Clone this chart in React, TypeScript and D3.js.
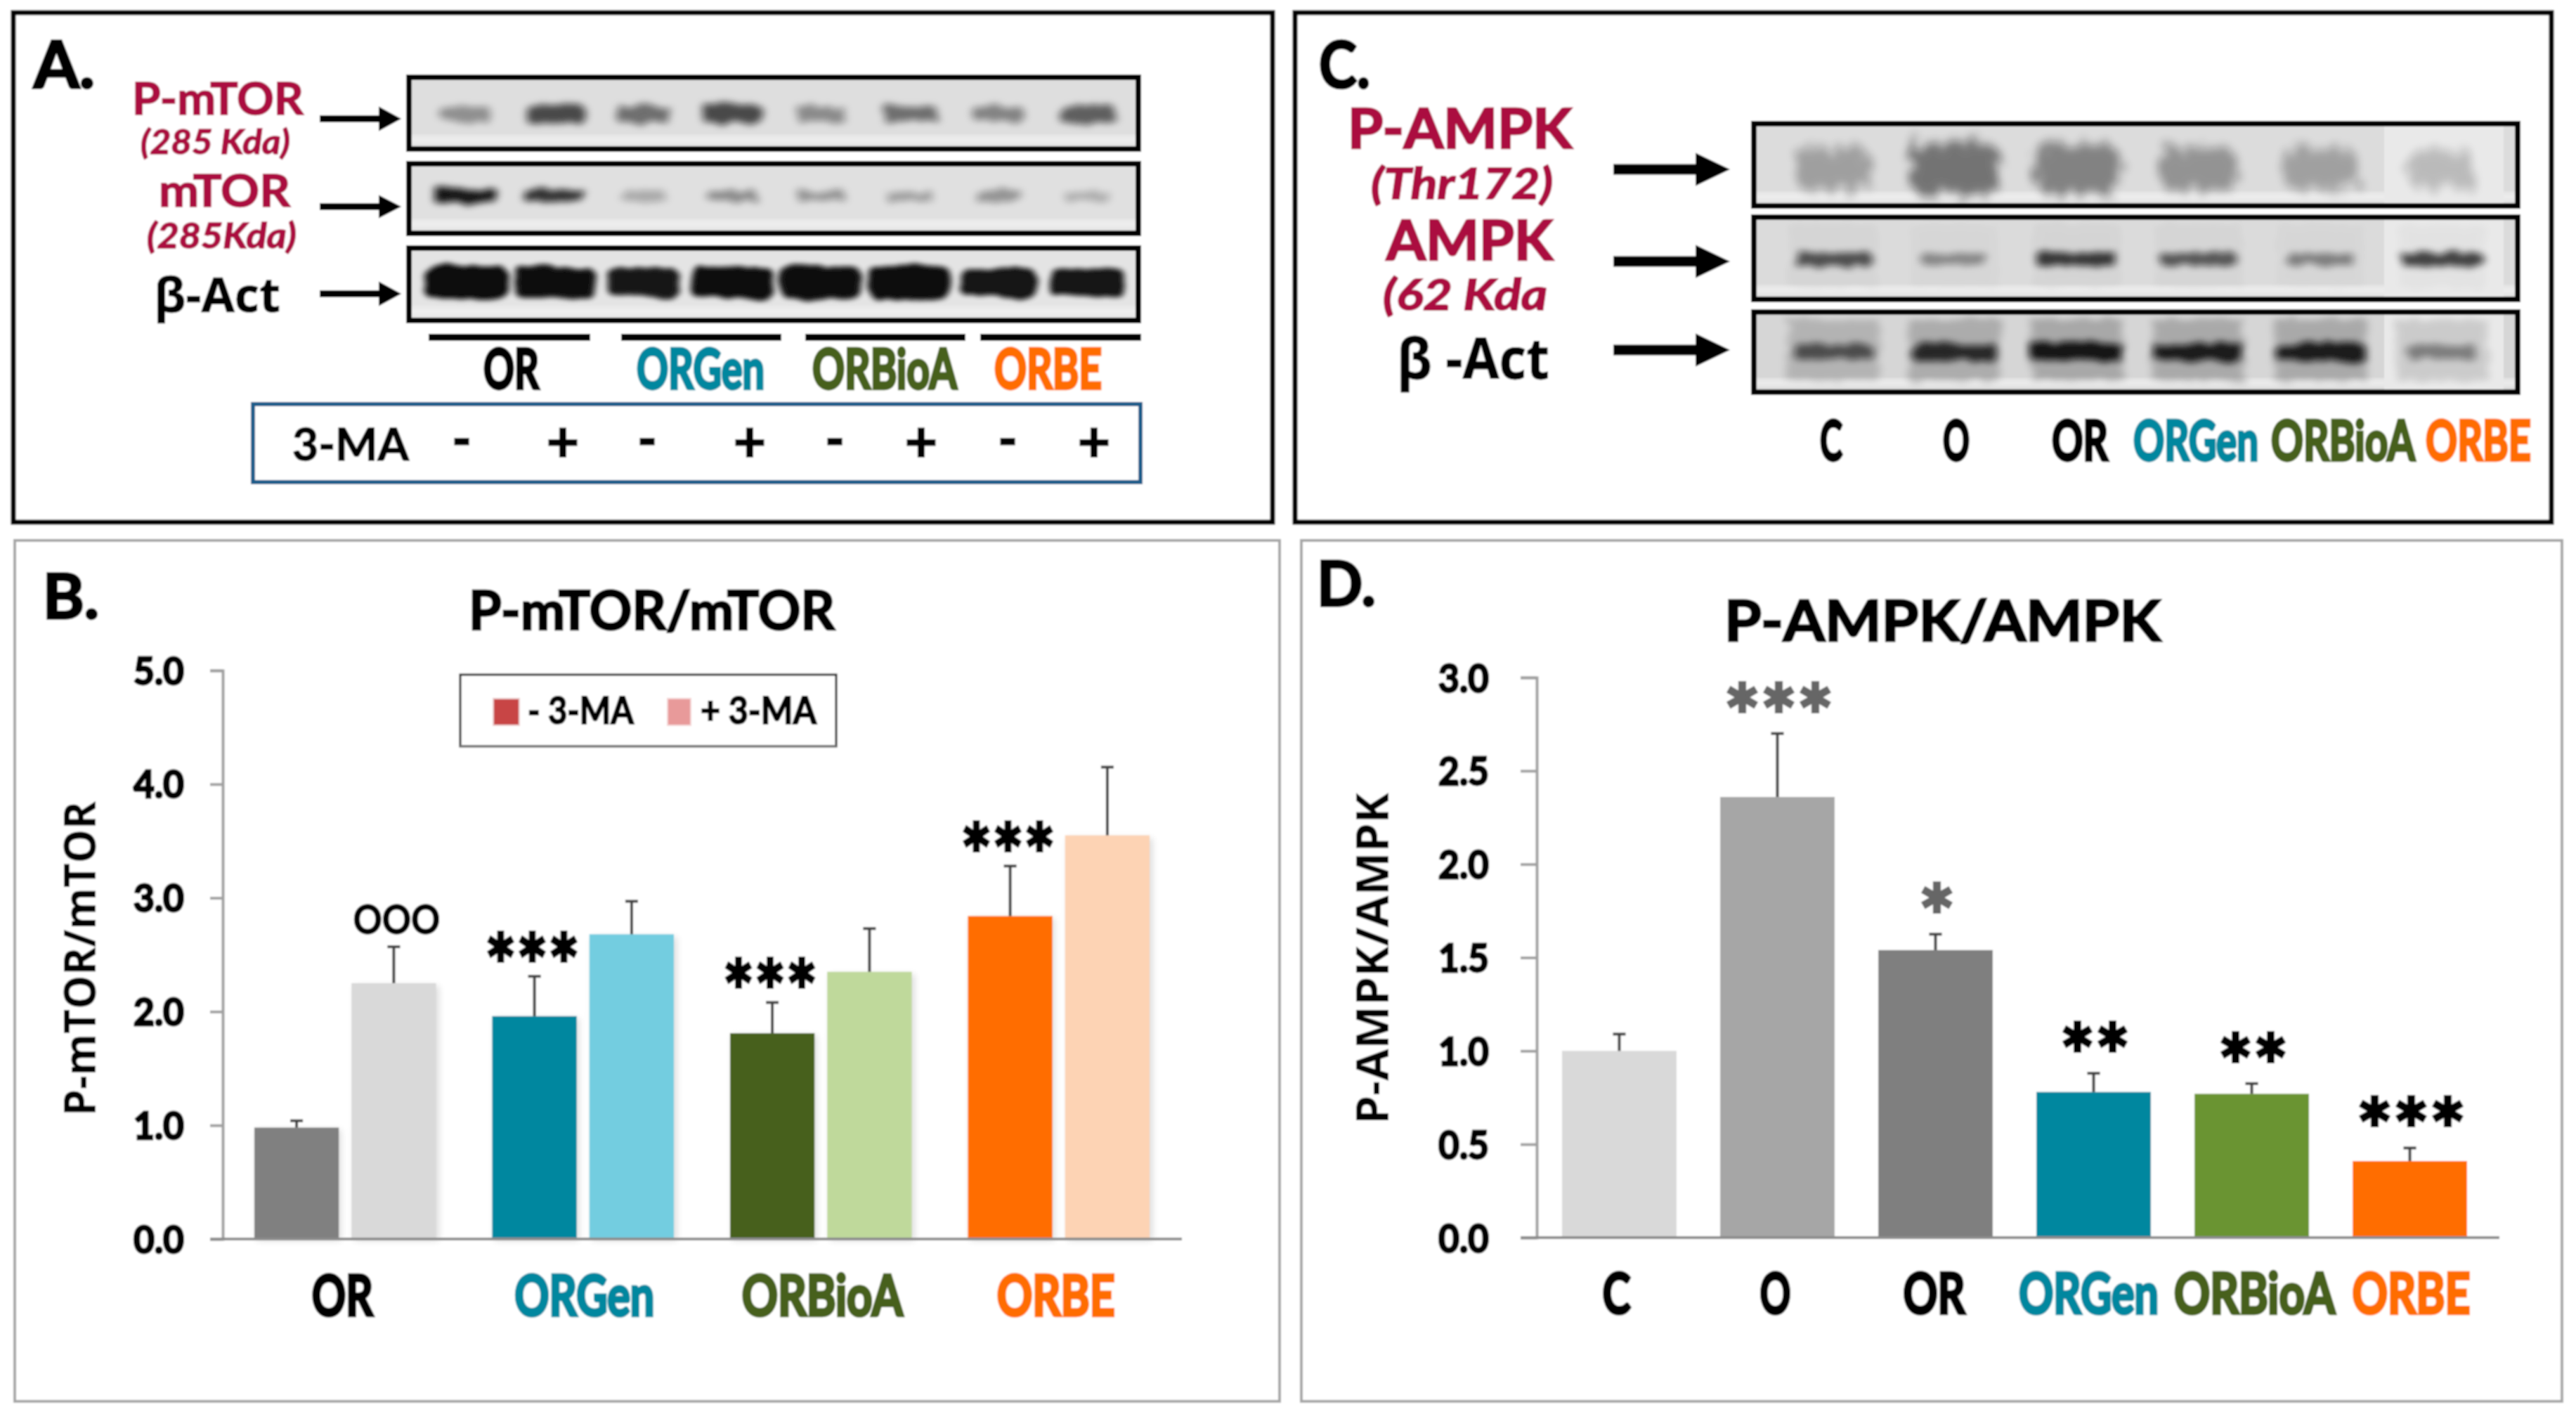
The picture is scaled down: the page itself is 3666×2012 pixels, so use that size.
import React, { useEffect, useLayoutEffect, useRef } from "react";
import * as d3 from "d3";

// ---------- data ----------
const groupsB = ["OR", "ORGen", "ORBioA", "ORBE"];
const minusMA = [0.98, 1.96, 1.81, 2.84];
const plusMA = [2.25, 2.68, 2.35, 3.55];
const minusMATop = [1.04, 2.31, 2.08, 3.28];
const plusMATop = [2.57, 2.97, 2.73, 4.15];
const minusColors = ["#808080", "#00879f", "#47611f", "#ff6d00"];
const plusColors = ["#d9d9d9", "#73cde0", "#bfd99b", "#fdd3b4"];
const starsMinus = ["", "***", "***", "***"];
const starsPlus = ["OOO", "", "", ""];

const groupsD = ["C", "O", "OR", "ORGen", "ORBioA", "ORBE"];
const ampk = [1.0, 2.36, 1.54, 0.78, 0.77, 0.41];
const ampkTop = [1.09, 2.7, 1.625, 0.88, 0.825, 0.48];
const ampkColors = ["#d9d9d9", "#a6a6a6", "#7f7f7f", "#00879f", "#6b9431", "#ff6d00"];
const ampkStars = ["", "***", "*", "**", "**", "***"];
const ampkStarColors = ["#000", "#666", "#666", "#000", "#000", "#000"];

const pmtorBlot = [0.32, 0.8, 0.55, 0.8, 0.35, 0.55, 0.4, 0.65];
const mtorBlot = [0.95, 0.8, 0.12, 0.3, 0.25, 0.2, 0.25, 0.1];
const actABlot = [1, 0.9, 0.6, 0.95, 0.9, 0.95, 0.7, 0.7];
const pampkBlot = [0.3, 0.75, 0.6, 0.42, 0.28, 0.12];
const ampkBlot = [0.65, 0.3, 0.8, 0.6, 0.35, 0.75];
const actCBlot = [0.55, 0.8, 0.95, 0.9, 0.9, 0.3];

const labelColor: Record<string, string> = {
  C: "#000", O: "#000", OR: "#000", ORGen: "#00879f", ORBioA: "#47611f", ORBE: "#ff6d00",
};
const LATO = "Lato, sans-serif";
const OPEN = "'Open Sans', sans-serif";
const CRIMSON = "#ab0d41";

// ---------- helpers ----------
// Squeezes a text to its measured width, so that its box is the box that is drawn.
function Fit({ x0, x1, y, size, fill = "#000", italic = false, weight = 700, family = LATO, bold = 0.03, children }: any) {
  const ref = useRef<SVGTextElement>(null);
  useLayoutEffect(() => {
    const el = ref.current!;
    const natural = el.getComputedTextLength();
    el.setAttribute("transform", `translate(${x0},${y}) scale(${(x1 - x0) / natural},1)`);
  }, []);
  return (
    <text ref={ref} transform={`translate(${x0},${y})`} fontSize={size} fontFamily={family} fontWeight={weight}
      fontStyle={italic ? "italic" : "normal"} fill={fill} stroke={fill} strokeWidth={size * bold}>{children}</text>
  );
}

function Arrow({ x0, x1, y, shaft, headW, headH }: any) {
  const path = d3.path();
  path.moveTo(x0, y - shaft / 2);
  path.lineTo(x1 - headW, y - shaft / 2);
  path.lineTo(x1 - headW, y - headH / 2);
  path.lineTo(x1, y);
  path.lineTo(x1 - headW, y + headH / 2);
  path.lineTo(x1 - headW, y + shaft / 2);
  path.lineTo(x0, y + shaft / 2);
  path.closePath();
  return <path d={path.toString()} fill="#000" />;
}

function Blot({ id, x0, x1, y0, y1, laneX0, laneX1, values, cy, bandW, bandH, bg, blur, base = 0.9, floor = 0.15, smear = 0, border = 8, patch }: any) {
  const lanes = d3.scaleBand<number>().domain(values.map((_: number, i: number) => i)).range([laneX0, laneX1]);
  const shade = d3.scaleLinear().domain([0, 1]).range([floor, base]);
  return (
    <g>
      <clipPath id={id}><rect x={x0} y={y0} width={x1 - x0} height={y1 - y0} /></clipPath>
      <rect x={x0} y={y0} width={x1 - x0} height={y1 - y0} fill={bg} />
      <g clipPath={`url(#${id})`}>
        <rect x={x0} y={y1 - border - 14} width={x1 - x0} height={10} fill="#f2f2f2" filter="url(#soft)" />
        {patch && <rect x={patch[0]} y={y0} width={patch[1] - patch[0]} height={y1 - y0} fill="#e9e9e9" />}
        {values.map((v: number, i: number) => {
          const cx = lanes(i)! + lanes.bandwidth() / 2;
          const w = bandW * (0.65 + 0.35 * v);
          const h = bandH * (0.6 + 0.4 * v);
          return (
            <g key={i}>
              {smear > 0 && (
                <rect x={cx - bandW * 0.5} y={y0 + 14} width={bandW} height={y1 - y0 - 34}
                  fill="#000" opacity={smear * (0.35 + v * 0.65)} filter={`url(#${blur})`} />
              )}
              <rect x={cx - w / 2} y={cy - h / 2} width={w} height={h} rx={h * 0.3}
                fill="#111" opacity={shade(v)} filter={`url(#${blur})`} />
            </g>
          );
        })}
      </g>
      <rect x={x0 + border / 2} y={y0 + border / 2} width={x1 - x0 - border} height={y1 - y0 - border}
        fill="none" stroke="#000" strokeWidth={border} />
    </g>
  );
}

function YAxis({ scale, x, tickVals, tickX0, tickX1, fontSize }: any) {
  const ref = useRef<SVGGElement>(null);
  useEffect(() => {
    const axis = d3.axisLeft(scale).tickValues(tickVals).tickSize(x - tickX1).tickFormat(d3.format(".1f") as any);
    const g = d3.select(ref.current!);
    g.call(axis as any);
    g.selectAll(".domain").attr("stroke", "#a0a0a0").attr("stroke-width", 4);
    g.selectAll(".tick line").attr("stroke", "#a0a0a0").attr("stroke-width", 4);
    g.selectAll(".tick text")
      .attr("x", 0)
      .attr("dy", 0)
      .attr("text-anchor", "end")
      .attr("font-size", fontSize)
      .attr("font-family", LATO)
      .attr("font-weight", 700)
      .attr("fill", "#000")
      .attr("stroke", "#000")
      .attr("stroke-width", 3)
      .each(function (this: any) {
        const natural = this.getComputedTextLength();
        d3.select(this).attr("transform", `translate(${tickX0 - x},${fontSize * 0.36}) scale(${72 / natural},1)`);
      });
  }, []);
  return <g ref={ref} transform={`translate(${x},0)`} />;
}

function XAxis({ scale, y, x0, x1, labelWidth, labelDx, labelBase, fontSize }: any) {
  const ref = useRef<SVGGElement>(null);
  useEffect(() => {
    const axis = d3.axisBottom(scale).tickSize(0);
    const g = d3.select(ref.current!);
    g.call(axis as any);
    g.select(".domain").attr("stroke", "#8c8c8c").attr("stroke-width", 4).attr("d", `M${x0},0H${x1}`);
    g.selectAll(".tick text")
      .attr("y", 0)
      .attr("dy", 0)
      .attr("text-anchor", "middle")
      .attr("font-size", fontSize)
      .attr("font-family", LATO)
      .attr("font-weight", 700)
      .attr("fill", (d: any) => labelColor[d])
      .attr("stroke", (d: any) => labelColor[d])
      .attr("stroke-width", 4.5)
      .each(function (this: any, d: any) {
        const natural = this.getComputedTextLength();
        d3.select(this).attr("transform", `translate(${labelDx[d] ?? 0},${labelBase - y}) scale(${labelWidth[d] / natural},1)`);
      });
  }, []);
  return <g ref={ref} transform={`translate(0,${y})`} />;
}

function Whisker({ x, y0, y1 }: any) {
  return (
    <g stroke="#404040" strokeWidth={4} fill="none">
      <line x1={x} x2={x} y1={y0} y2={y1} />
      <line x1={x - 9} x2={x + 9} y1={y1} y2={y1} />
    </g>
  );
}

function Stars({ cx, y, text, fill = "#000", starW = 45 }: any) {
  const w = text.length * starW;
  return <Fit x0={cx - w / 2} x1={cx + w / 2} y={y} size={122} fill={fill} bold={0.033}>{text}</Fit>;
}

// ---------- panels ----------
function PanelA() {
  const under = [[610, 840], [884, 1112], [1146, 1374], [1395, 1624]];
  const labs: [string, number, number][] = [["OR", 688, 767], ["ORGen", 906, 1088], ["ORBioA", 1156, 1362], ["ORBE", 1415, 1568]];
  const minus = [657, 921, 1188, 1434];
  const plus = [801, 1067, 1311, 1557];
  return (
    <g>
      <rect x={19} y={18} width={1792} height={725} fill="#fff" stroke="#000" strokeWidth={7} />
      <Fit x0={48} x1={135} y={125} size={92} bold={0.04}>A.</Fit>
      <Fit x0={188} x1={432} y={163} size={64} fill={CRIMSON} bold={0.025}>P-mTOR</Fit>
      <Fit x0={200} x1={413} y={219} size={48} fill={CRIMSON} italic>(285 Kda)</Fit>
      <Fit x0={226} x1={413} y={294} size={64} fill={CRIMSON} bold={0.025}>mTOR</Fit>
      <Fit x0={209} x1={422} y={353} size={50} fill={CRIMSON} italic>(285Kda)</Fit>
      <Fit x0={219} x1={399} y={444} size={68} family={OPEN} weight={700} bold={0.01}>β-Act</Fit>
      <Arrow x0={455} x1={571} y={169} shaft={10} headW={32} headH={35} />
      <Arrow x0={455} x1={571} y={294} shaft={10} headW={32} headH={33} />
      <Arrow x0={455} x1={571} y={418} shaft={10} headW={32} headH={35} />
      <Blot id="a1" x0={578} x1={1624} y0={106} y1={216} laneX0={600} laneX1={1610} values={pmtorBlot} cy={162}
        bandW={90} bandH={30} bg="#dedede" blur="bandA" base={0.85} />
      <Blot id="a2" x0={578} x1={1624} y0={229} y1={336} laneX0={600} laneX1={1610} values={mtorBlot} cy={279}
        bandW={92} bandH={22} bg="#e0e0e0" blur="bandA" base={1} />
      <Blot id="a3" x0={578} x1={1624} y0={349} y1={460} laneX0={600} laneX1={1610} values={actABlot} cy={402}
        bandW={118} bandH={48} bg="#e4e4e4" blur="bandB" base={1} floor={0.85} />
      {under.map(([a, b], i) => <rect key={i} x={a} y={475} width={b - a} height={10} fill="#000" />)}
      {labs.map(([t, a, b]) => (
        <Fit key={t} x0={a} x1={b} y={553} size={78} bold={0.055} fill={labelColor[t]}>{t}</Fit>
      ))}
      <rect x={360} y={575} width={1263} height={111} fill="#fff" stroke="#1f5c8a" strokeWidth={6} />
      <Fit x0={416} x1={582} y={655} size={64} bold={0.02}>3-MA</Fit>
      {minus.map((x, i) => <text key={i} x={x} y={650} textAnchor="middle" fontSize={70} fontFamily={LATO} fontWeight={700} stroke="#000" strokeWidth={3}>-</text>)}
      {plus.map((x, i) => <text key={i} x={x} y={657} textAnchor="middle" fontSize={80} fontFamily={LATO} fontWeight={700} stroke="#000" strokeWidth={2}>+</text>)}
    </g>
  );
}

function PanelC() {
  const labs: [string, number, number][] = [["C", 2590, 2622], ["O", 2765, 2803], ["OR", 2920, 3000], ["ORGen", 3036, 3214], ["ORBioA", 3232, 3437], ["ORBE", 3452, 3602]];
  const patch = [3393, 3563];
  return (
    <g>
      <rect x={1843} y={18} width={1788} height={725} fill="#fff" stroke="#000" strokeWidth={7} />
      <Fit x0={1877} x1={1950} y={125} size={92} bold={0.04}>C.</Fit>
      <Fit x0={1918} x1={2237} y={211} size={78} fill={CRIMSON} bold={0.035}>P-AMPK</Fit>
      <Fit x0={1951} x1={2210} y={283} size={62} fill={CRIMSON} italic>(Thr172)</Fit>
      <Fit x0={1973} x1={2210} y={370} size={78} fill={CRIMSON} bold={0.035}>AMPK</Fit>
      <Fit x0={1968} x1={2202} y={441} size={62} fill={CRIMSON} italic>(62 Kda</Fit>
      <Fit x0={1988} x1={2205} y={539} size={80} family={OPEN} weight={700} bold={0.01}>β -Act</Fit>
      <Arrow x0={2296} x1={2462} y={241} shaft={15} headW={49} headH={47} />
      <Arrow x0={2296} x1={2462} y={372} shaft={15} headW={49} headH={47} />
      <Arrow x0={2296} x1={2462} y={498} shaft={15} headW={49} headH={47} />
      <Blot id="c1" x0={2492} x1={3587} y0={172} y1={297} laneX0={2522} laneX1={3562} values={pampkBlot} cy={240}
        bandW={138} bandH={84} bg="#dcdcdc" blur="bandC" base={0.62} patch={patch} />
      <Blot id="c2" x0={2492} x1={3587} y0={305} y1={430} laneX0={2522} laneX1={3562} values={ampkBlot} cy={369}
        bandW={125} bandH={22} bg="#dbdbdb" blur="bandA" base={0.95} smear={0.03} patch={patch} />
      <Blot id="c3" x0={2492} x1={3587} y0={440} y1={562} laneX0={2522} laneX1={3562} values={actCBlot} cy={501}
        bandW={130} bandH={26} bg="#d6d6d6" blur="bandA" base={1} smear={0.22} patch={patch} />
      {labs.map(([t, a, b]) => (
        <Fit key={t} x0={a} x1={b} y={655} size={78} bold={0.055} fill={labelColor[t]}>{t}</Fit>
      ))}
    </g>
  );
}

function PanelB() {
  const y = d3.scaleLinear().domain([0, 5]).range([1763, 954]);
  const x = d3.scaleBand<string>().domain(groupsB).range([322, 1676]).paddingInner(0.236).paddingOuter(0.118);
  const sub = d3.scaleBand<number>().domain([0, 1]).range([0, x.bandwidth()]).paddingInner(0.13);
  const labelWidth = { OR: 87, ORGen: 199, ORBioA: 229, ORBE: 168 };
  const labelDx = { OR: -4, ORGen: 2, ORBioA: 2, ORBE: -4 };
  return (
    <g>
      <rect x={21} y={769} width={1800} height={1225} fill="#fff" stroke="#a6a6a6" strokeWidth={4} />
      <Fit x0={61} x1={141} y={880} size={88} bold={0.04}>B.</Fit>
      <Fit x0={667} x1={1188} y={896} size={76} bold={0.035}>P-mTOR/mTOR</Fit>
      <g transform="translate(136,1364) rotate(-90)">
        <text x={0} y={0} textAnchor="middle" fontSize={62} fontFamily={OPEN} fontWeight={700} textLength={448} lengthAdjust="spacingAndGlyphs">P-mTOR/mTOR</text>
      </g>
      {groupsB.map((g, i) => {
        const gx = x(g)!;
        const bw = sub.bandwidth();
        const mx = gx + sub(0)!;
        const px = gx + sub(1)!;
        return (
          <g key={g}>
            <rect x={px + 4} y={y(plusMA[i]) + 4} width={bw} height={y(0) - y(plusMA[i]) - 2} fill="#dcdcdc" filter="url(#soft)" />
            <rect x={mx + 3} y={y(minusMA[i]) + 3} width={bw} height={y(0) - y(minusMA[i]) - 1} fill="#dcdcdc" filter="url(#soft)" />
            <rect x={mx} y={y(minusMA[i])} width={bw} height={y(0) - y(minusMA[i])} fill={minusColors[i]} />
            <rect x={px} y={y(plusMA[i])} width={bw} height={y(0) - y(plusMA[i])} fill={plusColors[i]} />
            <Whisker x={mx + bw / 2} y0={y(minusMA[i])} y1={y(minusMATop[i])} />
            <Whisker x={px + bw / 2} y0={y(plusMA[i])} y1={y(plusMATop[i])} />
            {starsMinus[i] && <Stars cx={mx + bw / 2 - 3} y={y(minusMATop[i]) + 30} text={starsMinus[i]} />}
            {starsPlus[i] && (
              <Fit x0={px + bw / 2 - 58} x1={px + bw / 2 + 66} y={y(plusMATop[i]) - 18} size={58} bold={0.025}>{starsPlus[i]}</Fit>
            )}
          </g>
        );
      })}
      <YAxis scale={y} x={317} tickVals={d3.range(0, 5.01, 1)} tickX0={262} tickX1={299} fontSize={53} />
      <XAxis scale={x} y={1763} x0={299} x1={1682} labelWidth={labelWidth} labelDx={labelDx} labelBase={1872} fontSize={80} />
      <rect x={655} y={960} width={535} height={102} fill="#fff" stroke="#222" strokeWidth={3} />
      <rect x={655} y={1060} width={535} height={3} fill="#777" />
      <rect x={702} y={994} width={37} height={38} fill="#c84444" stroke="#eccaca" strokeWidth={2} />
      <Fit x0={751} x1={902} y={1030} size={54} bold={0.035}>- 3-MA</Fit>
      <rect x={950} y={994} width={33} height={38} fill="#e89a9a" stroke="#f4d5d5" strokeWidth={2} />
      <Fit x0={997} x1={1162} y={1030} size={54} bold={0.035}>+ 3-MA</Fit>
    </g>
  );
}

function PanelD() {
  const y = d3.scaleLinear().domain([0, 3]).range([1761, 964]);
  const x = d3.scaleBand<string>().domain(groupsD).range([2187, 3547]).paddingInner(0.276).paddingOuter(0.16);
  const labelWidth = { C: 40, O: 44, OR: 88, ORGen: 199, ORBioA: 229, ORBE: 168 };
  const labelDx = { C: -4, O: -3, OR: -2, ORGen: -7, ORBioA: 4, ORBE: 2 };
  return (
    <g>
      <rect x={1852} y={769} width={1794} height={1225} fill="#fff" stroke="#a6a6a6" strokeWidth={4} />
      <Fit x0={1874} x1={1958} y={862} size={88} bold={0.04}>D.</Fit>
      <Fit x0={2454} x1={3075} y={912} size={80} bold={0.035}>P-AMPK/AMPK</Fit>
      <g transform="translate(1976,1364) rotate(-90)">
        <text x={0} y={0} textAnchor="middle" fontSize={64} fontFamily={OPEN} fontWeight={700} textLength={472} lengthAdjust="spacingAndGlyphs">P-AMPK/AMPK</text>
      </g>
      {groupsD.map((g, i) => {
        const bx = x(g)!;
        const bw = x.bandwidth();
        return (
          <g key={g}>
            <rect x={bx} y={y(ampk[i])} width={bw} height={y(0) - y(ampk[i])} fill={ampkColors[i]} />
            <Whisker x={bx + bw / 2} y0={y(ampk[i])} y1={y(ampkTop[i])} />
            {ampkStars[i] && <Stars cx={bx + bw / 2 + 2} y={y(ampkTop[i]) + 20} text={ampkStars[i]} fill={ampkStarColors[i]} starW={ampkStars[i].length === 2 ? 50 : 52} />}
          </g>
        );
      })}
      <YAxis scale={y} x={2187} tickVals={d3.range(0, 3.01, 0.5)} tickX0={2119} tickX1={2164} fontSize={56} />
      <XAxis scale={x} y={1761} x0={2164} x1={3557} labelWidth={labelWidth} labelDx={labelDx} labelBase={1869} fontSize={80} />
    </g>
  );
}

export default function App() {
  return (
    <svg width={3666} height={2012} viewBox="0 0 3666 2012" style={{ position: "absolute", left: 0, top: 0, display: "block", background: "#fff" }}>
      <defs>
        <filter id="soft" x="-30%" y="-30%" width="160%" height="160%"><feGaussianBlur stdDeviation="5" /></filter>
        <filter id="bandA" x="-40%" y="-150%" width="180%" height="400%">
          <feTurbulence type="fractalNoise" baseFrequency="0.05" numOctaves="2" seed="3" result="n" />
          <feDisplacementMap in="SourceGraphic" in2="n" scale="16" result="d" />
          <feGaussianBlur in="d" stdDeviation="6 5" />
        </filter>
        <filter id="bandB" x="-30%" y="-60%" width="160%" height="220%">
          <feTurbulence type="fractalNoise" baseFrequency="0.03" numOctaves="2" seed="5" result="n" />
          <feDisplacementMap in="SourceGraphic" in2="n" scale="14" result="d" />
          <feGaussianBlur in="d" stdDeviation="4 3" />
        </filter>
        <filter id="bandC" x="-40%" y="-60%" width="180%" height="220%">
          <feTurbulence type="fractalNoise" baseFrequency="0.07" numOctaves="3" seed="8" result="n" />
          <feDisplacementMap in="SourceGraphic" in2="n" scale="40" result="d" />
          <feGaussianBlur in="d" stdDeviation="6 7" />
        </filter>
        <filter id="page" x="0" y="0" width="3666" height="2012" filterUnits="userSpaceOnUse"><feGaussianBlur stdDeviation="1" /></filter>
      </defs>
      <g filter="url(#page)">
        <rect width={3666} height={2012} fill="#fff" />
        <PanelA />
        <PanelC />
        <PanelB />
        <PanelD />
      </g>
    </svg>
  );
}
